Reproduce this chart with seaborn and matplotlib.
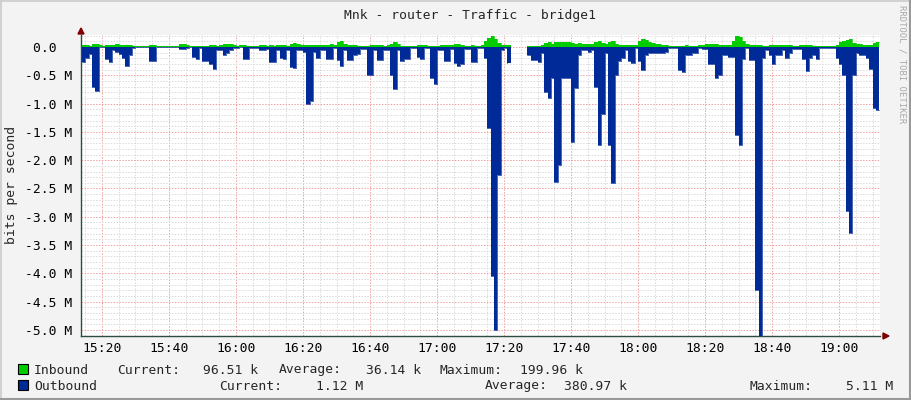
import numpy as np
import pandas as pd
import seaborn as sns
import matplotlib.pyplot as plt
import matplotlib.dates as mdates
from matplotlib.ticker import MultipleLocator, FuncFormatter
from matplotlib.patches import Rectangle, Polygon
from matplotlib.lines import Line2D

W, H = 911, 400
nan = np.nan

title = "Mnk - router - Traffic - bridge1"
start_time = "2024-01-01 15:14"

# one sample per minute, in Mbit/s
inbound = [
    0.04, 0.04, 0.02, 0.05, 0.05, 0.04, 0.01, 0.03, 0.03, 0.04,
    0.06, 0.04, 0.03, 0.04, 0.04, 0.01, 0.01, 0.01, 0.01, 0.01,
    0.04, 0.04, 0.01, 0.01, 0.01, 0.01, 0.01, 0.01, 0.02, 0.05,
    0.05, 0.03, 0.01, 0.01, 0.02, 0.01, 0.02, 0.02, 0.03, 0.03,
    0.02, 0.04, 0.06, 0.06, 0.05, 0.03, 0.02, 0.03, 0.03, 0.02,
    0.01, 0.02, 0.02, 0.03, 0.03, 0.02, 0.03, 0.02, 0.03, 0.03,
    0.04, 0.02, 0.06, 0.07, 0.05, 0.03, 0.03, 0.03, 0.04, 0.03,
    0.04, 0.04, 0.03, 0.03, 0.05, 0.03, 0.08, 0.10, 0.05, 0.03,
    0.04, 0.04, 0.02, 0.02, 0.02, 0.02, 0.03, 0.03, 0.03, 0.03,
    0.02, 0.03, 0.06, 0.08, 0.05, 0.02, 0.02, 0.02, 0.02, 0.02,
    0.03, 0.03, 0.03, 0.02, 0.02, 0.02, 0.02, 0.03, 0.03, 0.03,
    0.04, 0.06, 0.06, 0.04, 0.02, 0.02, 0.03, 0.02, 0.02, 0.03,
    0.10, 0.16, 0.19, 0.15, 0.07, 0.03, 0.03, 0.03, nan, nan,
    nan, nan, nan, 0.01, 0.01, 0.02, 0.02, 0.04, 0.07, 0.08,
    0.06, 0.08, 0.09, 0.09, 0.08, 0.09, 0.07, 0.06, 0.07, 0.06,
    0.05, 0.06, 0.06, 0.08, 0.10, 0.07, 0.06, 0.08, 0.10, 0.06,
    0.04, 0.04, 0.04, 0.03, 0.04, 0.04, 0.10, 0.15, 0.13, 0.08,
    0.07, 0.06, 0.05, 0.04, 0.03, 0.02, 0.02, 0.02, 0.02, 0.02,
    0.03, 0.02, 0.02, 0.02, 0.03, 0.04, 0.05, 0.06, 0.06, 0.05,
    0.04, 0.03, 0.03, 0.04, 0.10, 0.20, 0.18, 0.10, 0.05, 0.04,
    0.04, 0.03, 0.03, 0.02, 0.02, 0.03, 0.04, 0.03, 0.03, 0.04,
    0.03, 0.03, 0.02, 0.02, 0.03, 0.03, 0.03, 0.03, 0.02, 0.02,
    0.02, 0.01, 0.01, 0.01, 0.01, 0.03, 0.08, 0.10, 0.12, 0.15,
    0.07, 0.05, 0.05, 0.04, 0.04, 0.04, 0.07, 0.0965,
]

outbound = [
    0.26, 0.20, 0.12, 0.70, 0.77, 0.00, 0.00, 0.22, 0.27, 0.05,
    0.08, 0.12, 0.20, 0.33, 0.15, 0.01, 0.00, 0.00, 0.00, 0.00,
    0.25, 0.25, 0.00, 0.00, 0.00, 0.00, 0.00, 0.00, 0.00, 0.03,
    0.03, 0.01, 0.00, 0.18, 0.22, 0.01, 0.25, 0.25, 0.30, 0.38,
    0.05, 0.06, 0.14, 0.10, 0.05, 0.02, 0.01, 0.00, 0.22, 0.22,
    0.01, 0.01, 0.02, 0.05, 0.05, 0.03, 0.27, 0.27, 0.05, 0.20,
    0.22, 0.05, 0.35, 0.37, 0.05, 0.05, 0.08, 1.00, 0.95, 0.08,
    0.20, 0.05, 0.05, 0.22, 0.22, 0.01, 0.23, 0.33, 0.05, 0.23,
    0.23, 0.14, 0.12, 0.03, 0.03, 0.50, 0.50, 0.05, 0.23, 0.23,
    0.05, 0.05, 0.50, 0.75, 0.05, 0.25, 0.22, 0.22, 0.02, 0.02,
    0.18, 0.22, 0.01, 0.01, 0.54, 0.65, 0.05, 0.05, 0.25, 0.25,
    0.03, 0.28, 0.33, 0.30, 0.03, 0.03, 0.27, 0.27, 0.01, 0.01,
    0.20, 1.43, 4.05, 5.00, 2.26, 0.05, 0.02, 0.28, nan, nan,
    nan, nan, nan, 0.15, 0.23, 0.23, 0.27, 0.10, 0.80, 0.90,
    0.55, 2.38, 2.08, 0.55, 0.55, 0.55, 1.68, 0.73, 0.15, 0.06,
    0.06, 0.08, 0.06, 0.70, 1.73, 1.18, 0.10, 1.73, 2.40, 0.50,
    0.25, 0.20, 0.05, 0.25, 0.28, 0.02, 0.25, 0.40, 0.15, 0.10,
    0.10, 0.10, 0.10, 0.10, 0.08, 0.02, 0.02, 0.02, 0.40, 0.45,
    0.15, 0.15, 0.10, 0.10, 0.02, 0.03, 0.03, 0.30, 0.30, 0.55,
    0.50, 0.15, 0.15, 0.18, 0.18, 1.55, 1.73, 0.22, 0.02, 0.23,
    0.23, 4.30, 5.11, 0.20, 0.05, 0.15, 0.30, 0.15, 0.15, 0.05,
    0.20, 0.10, 0.03, 0.03, 0.03, 0.22, 0.42, 0.20, 0.15, 0.22,
    0.02, 0.01, 0.01, 0.01, 0.01, 0.20, 0.30, 0.50, 2.90, 3.28,
    0.50, 0.10, 0.15, 0.15, 0.20, 0.38, 1.08, 1.12,
]

legend_rows = [
    ("Inbound", "#00CC00", [("Current:", "96.51 k"), ("Average:", "36.14 k"), ("Maximum:", "199.96 k")]),
    ("Outbound", "#002A97", [("Current:", "1.12 M"), ("Average:", "380.97 k"), ("Maximum:", "5.11 M")]),
]

sns.set_style("white")
plt.rcParams['font.family'] = ['DejaVu Sans Mono', 'DejaVu Sans']
FS = 9.4


def fx(x):
    return x / W


def fy(y):
    return 1 - y / H


times = pd.date_range(start_time, periods=len(inbound) + 1, freq="min")
inb = np.append(np.array(inbound), inbound[-1])
outb = -np.append(np.array(outbound), outbound[-1])

df = pd.DataFrame({"time": times, "in": inb, "out": outb})
df["seg"] = df["in"].isna().cumsum()
long = df.melt(id_vars=["time", "seg"], value_vars=["in", "out"], var_name="series", value_name="bps").dropna()

fig = plt.figure(figsize=(W / 100, H / 100), dpi=100)
fig.patch.set_facecolor("#F3F3F3")
ax = fig.add_axes([fx(81), fy(336), (880 - 81) / W, (336 - 35) / H])
ax.set_facecolor("white")

# carry each value up to the start of the gap so the last sample keeps its width
ax.fill_between(df["time"], 0, df["in"].ffill(limit=1), step="post", color="#00CC00", lw=0, zorder=3)
ax.fill_between(df["time"], 0, df["out"].ffill(limit=1), step="post", color="#002A97", lw=0, zorder=3)
sns.lineplot(data=long, x="time", y="bps", hue="series", units="seg", estimator=None,
             palette={"in": "#00CC00", "out": "#002A97"}, drawstyle="steps-post",
             lw=0.5, legend=False, ax=ax, zorder=4)

ax.set_xlim(pd.Timestamp("2024-01-01 15:13:44"), pd.Timestamp("2024-01-01 19:12:14"))
ax.set_ylim(-5.106, 0.212)

ax.xaxis.set_major_locator(mdates.MinuteLocator(byminute=[0, 20, 40]))
ax.xaxis.set_minor_locator(mdates.MinuteLocator(byminute=range(0, 60, 5)))
ax.xaxis.set_major_formatter(mdates.DateFormatter("%H:%M"))
ax.yaxis.set_major_locator(MultipleLocator(0.5))
ax.yaxis.set_minor_locator(MultipleLocator(0.1))
ax.yaxis.set_major_formatter(FuncFormatter(lambda v, p: "0.0  " if abs(v) < 1e-9 else f"{v:.1f} M"))

ax.set_axisbelow(True)
ax.grid(which="minor", color="#DADADA", linestyle=(0, (1.5, 1.5)), lw=0.7)
ax.grid(which="major", color="#F0A0A0", linestyle=(0, (1.5, 1.5)), lw=0.7)

axis_col = "#2C4D43"
for s in ["top", "right"]:
    ax.spines[s].set_visible(False)
for s in ["left", "bottom"]:
    ax.spines[s].set_color(axis_col)
    ax.spines[s].set_linewidth(1.0)
ax.tick_params(which="major", direction="out", length=2.2, width=0.8, color=axis_col,
               labelsize=FS, labelcolor="black")
ax.tick_params(which="minor", direction="out", length=1.4, width=0.7, color=axis_col)
ax.tick_params(axis="y", which="major", pad=4.3)
ax.tick_params(axis="x", which="major", pad=2.0)
ax.set_xlabel("")
ax.set_ylabel("")

# axis arrows
fig.add_artist(Polygon([(fx(78), fy(34)), (fx(84), fy(34)), (fx(81), fy(28))],
                       closed=True, color="#7F0000", transform=fig.transFigure))
fig.add_artist(Polygon([(fx(883), fy(333)), (fx(883), fy(339)), (fx(889), fy(336))],
                       closed=True, color="#7F0000", transform=fig.transFigure))

# image border
fig.add_artist(Line2D([0, 1], [fy(0.5), fy(0.5)], color="#CBCBCB", lw=1.2, transform=fig.transFigure))
fig.add_artist(Line2D([fx(0.5), fx(0.5)], [0, 1], color="#CBCBCB", lw=1.2, transform=fig.transFigure))
fig.add_artist(Line2D([0, 1], [fy(399), fy(399)], color="#999999", lw=1.5, transform=fig.transFigure))
fig.add_artist(Line2D([fx(910), fx(910)], [0, 1], color="#999999", lw=1.5, transform=fig.transFigure))

fig.text(fx(344), fy(19.5), title, ha="left", va="baseline", fontsize=FS)
fig.text(fx(12), fy(185), "bits per second", rotation=90, ha="center", va="center", fontsize=FS)
fig.text(fx(902), fy(5), "RRDTOOL / TOBI OETIKER", rotation=270, ha="center", va="top",
         fontsize=6.4, color="#A8A8A8")

# legend
row_y = [373.5, 389.5]
label_x = [[117, 279, 440], [219, 485, 749]]
value_x = [[258, 421, 583], [363, 627, 893]]
for i, (name, col, stats) in enumerate(legend_rows):
    y = row_y[i]
    fig.add_artist(Rectangle((fx(17.5), fy(y + 0.5)), 10 / W, 10 / H, facecolor=col,
                             edgecolor="black", lw=0.8, transform=fig.transFigure))
    fig.text(fx(34), fy(y), name, ha="left", va="baseline", fontsize=FS)
    for j, (lab, val) in enumerate(stats):
        fig.text(fx(label_x[i][j]), fy(y), lab, ha="left", va="baseline", fontsize=FS)
        fig.text(fx(value_x[i][j]), fy(y), val, ha="right", va="baseline", fontsize=FS)

fig.savefig("out.png", dpi=100, facecolor=fig.get_facecolor())
